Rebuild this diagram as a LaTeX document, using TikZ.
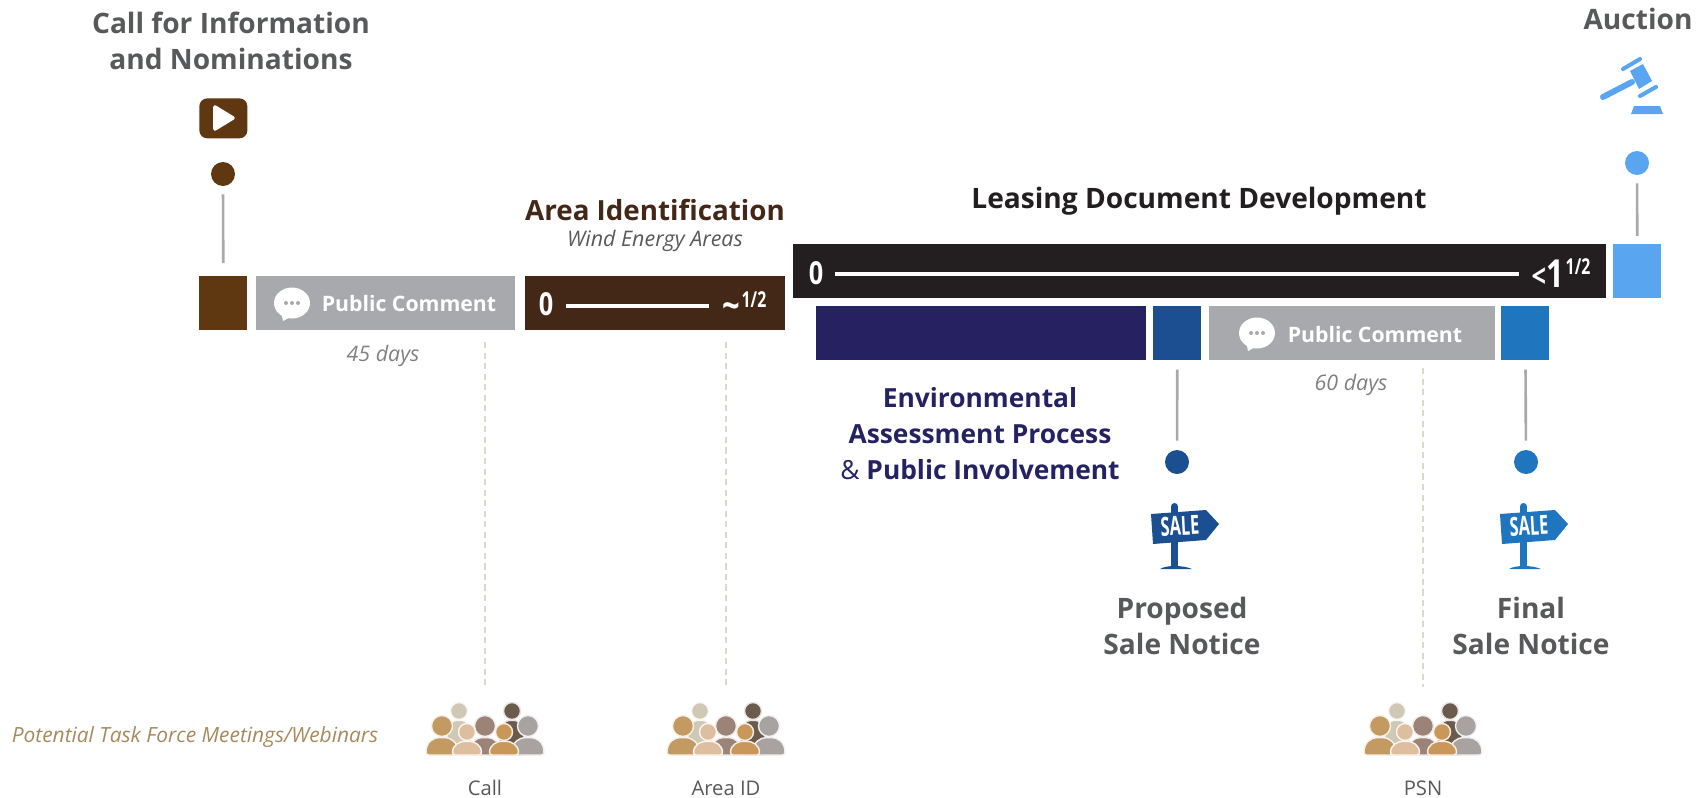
\documentclass[tikz,border=0pt]{standalone}
\usepackage{fontspec}
\setmainfont{Open Sans}
\usetikzlibrary{positioning}

\definecolor{callBrown}{HTML}{5F3711}
\definecolor{areaBrown}{HTML}{432818}
\definecolor{commentGray}{HTML}{A7A9AC}
\definecolor{leaseBlack}{HTML}{231F20}
\definecolor{auctionBlue}{HTML}{5AA5EF}
\definecolor{envNavy}{HTML}{262262}
\definecolor{psnBlue}{HTML}{1B4F91}
\definecolor{fsnBlue}{HTML}{1F75BE}
\definecolor{headGray}{HTML}{58595B}
\definecolor{dashTan}{HTML}{DDD8CC}
\definecolor{taskTan}{HTML}{A68A5E}
\definecolor{paleStone}{HTML}{CFC8B5}
\definecolor{darkUmber}{HTML}{6B5B4D}
\definecolor{warmTan}{HTML}{C49A63}
\definecolor{ashGray}{HTML}{A8A3A0}
\definecolor{mauveTan}{HTML}{9C8378}
\definecolor{paleSkin}{HTML}{DDBF9F}
\definecolor{deepTan}{HTML}{C9975A}

\def\u{0.02cm} % one reference pixel
\newcommand{\fs}[1]{\fontsize{#1}{20.5}\selectfont}

\tikzset{
  barbox/.style={anchor=north west, inner sep=0, minimum height=54*\u},
  dot/.style={circle, inner sep=0, minimum size=24*\u},
  stem/.style={draw=commentGray, line width=1.5pt},
  tie/.style={draw=dashTan, line width=1.2pt, dash pattern=on 3.5pt off 2.5pt},
  rule/.style={draw=white, line width=1.9pt},
  heading/.style={font=\fs{16}\bfseries, text=headGray, align=center, inner sep=0},
  barnum/.style={font=\fs{18}\bfseries, text=white, inner sep=0, xscale=.8},
  barfrac/.style={font=\fs{12.5}\bfseries, text=white, inner sep=0, xscale=.72},
  days/.style={font=\fs{12.2}\itshape, text=gray, inner sep=0},
  commentword/.style={font=\fs{12.1}\bfseries, text=white, inner sep=0},
  crowdname/.style={font=\fs{11.5}, text=headGray, inner sep=0},
  saleword/.style={font=\fs{15}\bfseries, text=white, inner sep=0, rotate=3, xscale=.62},
}

% speech bubble, centre #1,#2
\newcommand{\bubble}[2]{
  \fill[white] (#1,#2) ellipse (18 and 15.5);
  \fill[white] (#1-11,#2+8) -- (#1-9,#2+18) -- (#1+2,#2+12) -- cycle;
  \foreach \d in {-6,0,6} \fill[commentGray] (#1+\d,#2) circle (2);
}
% one person: head x, head y, head radius, half width, colour
\newcommand{\person}[5]{
  \fill[#5, draw=white!85!#5, line width=.8pt, rounded corners=1.5pt] (#1-#4,53) .. controls (#1-#4,#2+#3*1.5) and (#1-#3*.8,#2+#3*1.1) .. (#1,#2+#3*1.1)
    .. controls (#1+#3*.8,#2+#3*1.1) and (#1+#4,#2+#3*1.5) .. (#1+#4,53) -- cycle;
  \fill[#5, draw=white!85!#5, line width=.8pt] (#1,#2) circle (#3);
}
% crowd, top centre #1
\newcommand{\crowd}[1]{
  \begin{scope}[shift={(#1,702)}]
    \person{-26}{9}{8.5}{13}{paleStone}
    \person{27}{9}{8.5}{13}{darkUmber}
    \person{0}{24}{10.5}{15}{mauveTan}
    \person{-43}{24}{10.5}{16}{warmTan}
    \person{43}{24}{10.5}{16}{ashGray}
    \person{-18}{30}{8.5}{14.5}{paleSkin}
    \person{19}{30}{8.5}{14.5}{deepTan}
  \end{scope}
}
% sale sign, offset #1, colour #2
\newcommand{\salesign}[2]{
  \begin{scope}[shift={(#1,0)}]
    \fill[#2] (1174.5,506.5) circle (3.5);
    \fill[#2] (1171,506.5) rectangle (1178,514);
    \fill[#2] (1171,540) rectangle (1178,566);
    \fill[#2] (1160,569) .. controls (1166,565) and (1183,565) .. (1192,569) -- cycle;
    \fill[#2] (1151,514) -- (1206,510) -- (1219,524) -- (1206,540) -- (1153,544) -- cycle;
  \end{scope}
}

\begin{document}
\begin{tikzpicture}[x=\u, y=-\u]
  \useasboundingbox (0,0) rectangle (1708,798);

  % bars
  \node[barbox, fill=callBrown, minimum width=48*\u] (callBox) at (199,276) {};
  \node[barbox, fill=commentGray, minimum width=259*\u] (callComment) at (256,276) {};
  \node[barbox, fill=areaBrown, minimum width=260*\u] (areaBar) at (525,276) {};
  \node[barbox, fill=leaseBlack, minimum width=813*\u] (leaseBar) at (793,244) {};
  \node[barbox, fill=auctionBlue, minimum width=48*\u] (auctionBox) at (1613,244) {};
  \node[barbox, fill=envNavy, minimum width=330*\u] (envBar) at (816,306) {};
  \node[barbox, fill=psnBlue, minimum width=48*\u] (psnBox) at (1153,306) {};
  \node[barbox, fill=commentGray, minimum width=286*\u] (psnComment) at (1209,306) {};
  \node[barbox, fill=fsnBlue, minimum width=48*\u] (fsnBox) at (1501,306) {};

  % dots and stems
  \node[dot, fill=callBrown] (callDot) at (223,174) {};
  \node[dot, fill=auctionBlue] (auctionDot) at (1637,163) {};
  \node[dot, fill=psnBlue] (psnDot) at (1177,462) {};
  \node[dot, fill=fsnBlue] (fsnDot) at (1526,462) {};
  \draw[stem, shorten <=8*\u, shorten >=13*\u] (callDot) -- (callBox);
  \draw[stem, shorten <=8*\u, shorten >=8*\u] (auctionDot) -- (auctionBox);
  \draw[stem, shorten <=9*\u, shorten >=9*\u] (psnDot) -- (psnBox);
  \draw[stem, shorten <=9*\u, shorten >=9*\u] (fsnDot) -- (fsnBox);

  % top labels
  \node[heading] (callTitle) at (231,41) {Call for Information\\and Nominations};
  \node[heading] (auctionTitle) at (1638,19) {Auction};
  \node[heading, font=\fs{15.8}\bfseries, text=areaBrown] (areaTitle) at (655,210) {Area Identification};
  \node[font=\fs{12.2}\itshape, text=headGray, inner sep=0] (areaSub) at (655,241) {Wind Energy Areas};
  \node[heading, text=leaseBlack] (leaseTitle) at (1199,201) {Leasing Document Development};

  % play icon
  \node[barbox, fill=callBrown, rounded corners=4.5pt, minimum width=48*\u, minimum height=40*\u] (playIcon) at (199,98) {};
  \fill[white, draw=white, line join=round, line width=2pt] (215,107) -- (233,118) -- (215,129) -- cycle;

  % gavel
  \draw[auctionBlue, line width=3.4pt, line cap=round] (1603,97) -- (1632,82);
  \draw[auctionBlue, line width=2.3pt, line cap=round] (1623,69) -- (1640,59);
  \draw[auctionBlue, line width=2.3pt, line cap=round] (1640,96) -- (1656,87);
  \fill[auctionBlue] (1630,71) -- (1643,64) -- (1652,81) -- (1639,89) -- cycle;
  \fill[auctionBlue] (1631,114) -- (1634,106) -- (1660,106) -- (1663,114) -- cycle;

  % public comment bars
  \bubble{292}{303}
  \node[commentword] (callCommentText) at (409,304) {Public Comment};
  \bubble{1257}{333}
  \node[commentword] (psnCommentText) at (1375,335) {Public Comment};
  \node[days] (callDays) at (383,356) {45 days};
  \node[days] (psnDays) at (1351,385) {60 days};

  % durations
  \node[barnum] (areaStart) at (546,304) {0};
  \coordinate (areaA) at (566,306);
  \coordinate (areaB) at (709,306);
  \draw[rule] (areaA) -- (areaB);
  \node[barnum, font=\fs{22}\bfseries] (areaTilde) at (731,311) {\textasciitilde};
  \node[barfrac] (areaFrac) at (754,300) {1/2};
  \node[barnum] (leaseStart) at (816,273) {0};
  \coordinate (leaseA) at (835,274);
  \coordinate (leaseB) at (1519,274);
  \draw[rule] (leaseA) -- (leaseB);
  \node[barnum, anchor=east] (leaseEnd) at (1564,274) {<{\fs{22}\bfseries 1}};
  \node[barfrac] (leaseFrac) at (1578,267) {1/2};

  % environmental label
  \node[heading, text=envNavy, font=\fs{15}\bfseries, align=center] (envTitle) at (980,434) {Environmental\\Assessment Process\\{\normalfont\&} Public Involvement};

  % signs
  \salesign{0}{psnBlue}
  \salesign{349}{fsnBlue}
  \node[saleword] (psnSale) at (1180,526) {SALE};
  \node[saleword] (fsnSale) at (1529,526) {SALE};
  \node[heading] (psnTitle) at (1182,626) {Proposed\\Sale Notice};
  \node[heading] (fsnTitle) at (1531,626) {Final\\Sale Notice};

  % task force row
  \node[font=\fs{11.9}\itshape, text=taskTan, inner sep=0] (taskLabel) at (195,737) {Potential Task Force Meetings/Webinars};
  \crowd{485}
  \crowd{726}
  \crowd{1423}
  \node[crowdname] (callName) at (485,788) {Call};
  \node[crowdname] (areaName) at (726,788) {Area ID};
  \node[crowdname] (psnName) at (1423,788) {PSN};

  \coordinate (callTop) at (485,342);
  \coordinate (callEnd) at (485,687);
  \coordinate (areaTop) at (726,342);
  \coordinate (areaEnd) at (726,687);
  \coordinate (psnTop) at (1423,368);
  \coordinate (psnEnd) at (1423,687);
  \draw[tie] (callTop) -- (callEnd);
  \draw[tie] (areaTop) -- (areaEnd);
  \draw[tie] (psnTop) -- (psnEnd);
\end{tikzpicture}
\end{document}
